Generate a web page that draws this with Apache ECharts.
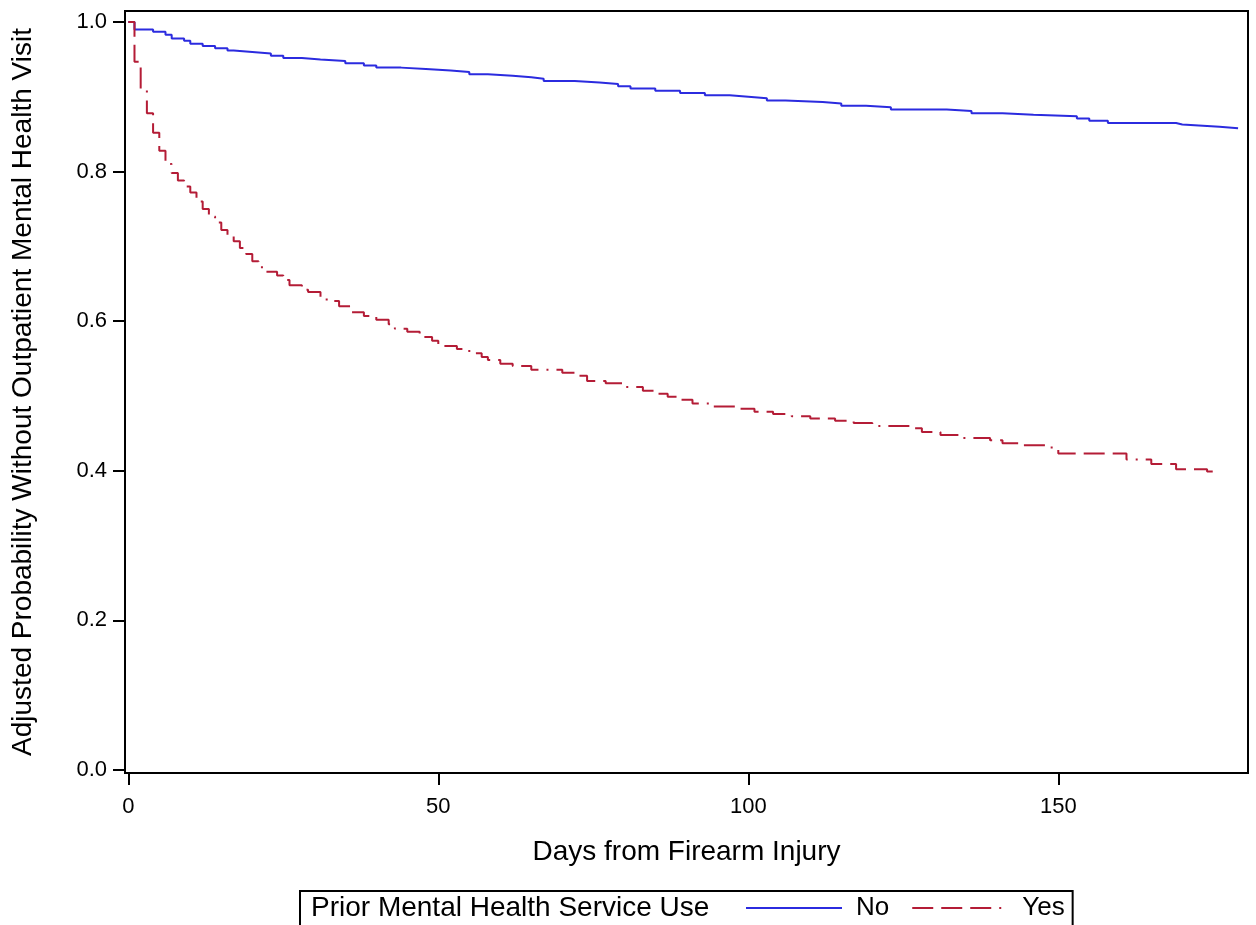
<!DOCTYPE html>
<html><head><meta charset="utf-8">
<script src="https://cdn.jsdelivr.net/npm/echarts@6/dist/echarts.min.js"></script>
<style>html,body{margin:0;padding:0;background:#fff}#chart{width:1256px;height:925px}</style>
</head><body><div id="chart"></div>
<script>
const xTicks = [0, 50, 100, 150];
const yTicks = [0, 0.2, 0.4, 0.6, 0.8, 1.0];
const xTitle = 'Days from Firearm Injury';
const yTitle = 'Adjusted Probability Without Outpatient Mental Health Visit';
const legendTitle = 'Prior Mental Health Service Use';
const seriesNames = ['No', 'Yes'];

// Prior mental health service use = No
const noDays = [0, 1, 4, 6, 7, 9, 10, 12, 14, 16, 17, 20, 23, 25, 28, 31, 35, 38, 40, 44, 48, 52, 55, 58, 62, 65, 67, 72, 76, 79, 81, 85, 89, 93, 97, 100, 103, 106, 112, 115, 119, 123, 132, 136, 141, 146, 153, 155, 158, 169, 170, 174, 176, 179];
const noSurv = [1.0, 0.990, 0.987, 0.983, 0.978, 0.975, 0.971, 0.968, 0.965, 0.962, 0.960, 0.958, 0.955, 0.952, 0.950, 0.948, 0.945, 0.942, 0.939, 0.937, 0.935, 0.933, 0.930, 0.928, 0.926, 0.924, 0.921, 0.919, 0.917, 0.914, 0.911, 0.908, 0.905, 0.902, 0.900, 0.898, 0.895, 0.893, 0.891, 0.888, 0.886, 0.883, 0.881, 0.878, 0.876, 0.874, 0.871, 0.868, 0.865, 0.863, 0.861, 0.860, 0.858, 0.858];

// Prior mental health service use = Yes
const yesDays = [0, 1, 2, 3, 4, 5, 6, 7, 8, 9, 10, 11, 12, 13, 14, 15, 16, 17, 18, 19, 20, 21, 22, 24, 25, 26, 28, 29, 31, 32, 34, 36, 38, 40, 42, 43, 45, 47, 49, 50, 53, 55, 57, 58, 60, 62, 65, 70, 72, 74, 77, 80, 83, 85, 87, 89, 91, 94, 98, 101, 104, 107, 110, 114, 117, 120, 126, 128, 131, 134, 139, 141, 144, 148, 150, 161, 165, 169, 174, 176];
const yesSurv = [1.0, 0.947, 0.910, 0.878, 0.852, 0.828, 0.810, 0.798, 0.788, 0.780, 0.772, 0.760, 0.750, 0.740, 0.732, 0.722, 0.714, 0.707, 0.698, 0.690, 0.680, 0.672, 0.666, 0.661, 0.655, 0.648, 0.642, 0.639, 0.632, 0.627, 0.620, 0.612, 0.607, 0.602, 0.596, 0.590, 0.586, 0.579, 0.574, 0.567, 0.563, 0.557, 0.552, 0.548, 0.543, 0.540, 0.535, 0.531, 0.527, 0.520, 0.517, 0.512, 0.507, 0.503, 0.499, 0.495, 0.490, 0.486, 0.483, 0.479, 0.476, 0.473, 0.470, 0.467, 0.464, 0.460, 0.457, 0.452, 0.448, 0.444, 0.441, 0.437, 0.434, 0.431, 0.423, 0.415, 0.409, 0.402, 0.399, 0.398];

const FONT = '"Liberation Sans", Arial, Helvetica, sans-serif';
const BLUE = '#2B2BDF';
const RED = '#B41C36';
const zip = (a, b) => a.map((d, i) => [d, b[i]]);

const chart = echarts.init(document.getElementById('chart'), null, {renderer: 'canvas'});
const option = {
  animation: false,
  backgroundColor: '#fff',
  grid: {left: 125, right: 8, top: 11, bottom: 152, show: true, borderColor: '#000', borderWidth: 2, containLabel: false},
  xAxis: {
    type: 'value', min: -0.53, max: 180.6,
    name: xTitle, nameLocation: 'middle', nameGap: 65,
    nameTextStyle: {fontFamily: FONT, fontSize: 28, color: '#000'},
    axisLine: {show: true, onZero: false, lineStyle: {color: '#000', width: 2}},
    axisTick: {show: true, length: 12, lineStyle: {color: '#000', width: 2}, customValues: xTicks},
    axisLabel: {customValues: xTicks, margin: 23, fontFamily: FONT, fontSize: 22, color: '#000'},
    splitLine: {show: false}
  },
  yAxis: {
    type: 'value', min: -0.004, max: 1.0147,
    name: yTitle, nameLocation: 'middle', nameGap: 88, nameRotate: 90,
    nameTextStyle: {fontFamily: FONT, fontSize: 28, color: '#000'},
    axisLine: {show: true, onZero: false, lineStyle: {color: '#000', width: 2}},
    axisTick: {show: true, length: 12, lineStyle: {color: '#000', width: 2}, customValues: yTicks},
    axisLabel: {customValues: yTicks, margin: 18, fontFamily: FONT, fontSize: 22, color: '#000', formatter: v => v.toFixed(1)},
    splitLine: {show: false}
  },
  legend: {
    left: 300, top: 891, orient: 'horizontal',
    padding: [4, 8, 14, 445],
    borderColor: '#000', borderWidth: 2,
    itemWidth: 96, itemHeight: 14, itemGap: 22,
    itemStyle: {opacity: 0},
    textStyle: {fontFamily: FONT, fontSize: 26, color: '#000', padding: [0, 0, 0, 9]},
    data: seriesNames
  },
  graphic: [{
    type: 'text', x: 311, y: 908,
    style: {text: legendTitle, fontFamily: FONT, fontSize: 28, fill: '#000', verticalAlign: 'middle', align: 'left'}
  }],
  series: [
    {name: seriesNames[0], type: 'line', step: 'end', symbol: 'none', data: zip(noDays, noSurv),
     lineStyle: {color: BLUE, width: 2}, itemStyle: {color: BLUE}, z: 2},
    {name: seriesNames[1], type: 'line', step: 'end', symbol: 'none', data: zip(yesDays, yesSurv),
     lineStyle: {color: RED, width: 2, type: [21, 8, 21, 8, 21, 8, 2, 8]}, itemStyle: {color: RED}, z: 3}
  ]
};
chart.setOption(option);
</script>
</body></html>
